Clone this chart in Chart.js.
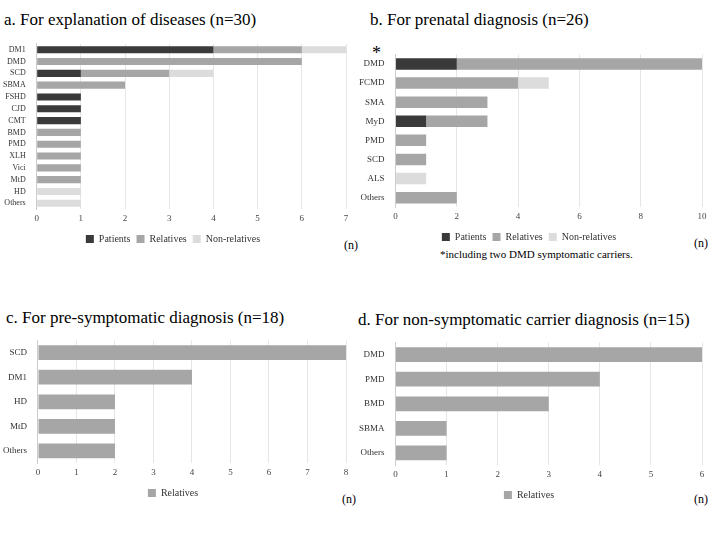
<!DOCTYPE html>
<html><head><meta charset="utf-8">
<script src="https://cdn.jsdelivr.net/npm/chart.js@4"></script>
<style>
body{margin:0;background:#fff;font-family:"Liberation Serif",serif;}
.t{position:absolute;font-size:17px;color:#000;white-space:nowrap}
.n{position:absolute;font-size:12px}
.box{position:absolute}
</style></head><body>
<div class="t" style="left:4px;top:10px">a. For explanation of diseases (n=30)</div>
<div class="t" style="left:370px;top:10px">b. For prenatal diagnosis (n=26)</div>
<div class="t" style="left:6px;top:308px">c. For pre-symptomatic diagnosis (n=18)</div>
<div class="t" style="left:358px;top:310px">d. For non-symptomatic carrier diagnosis (n=15)</div>
<div class="n" style="left:344px;top:238px">(n)</div>
<div class="n" style="left:694px;top:236px">(n)</div>
<div class="n" style="left:342px;top:492px">(n)</div>
<div class="n" style="left:694px;top:492px">(n)</div>
<div class="n" style="left:372px;top:43px;font-size:18px">*</div>
<div class="n" style="left:440px;top:248px;font-size:11px">*including two DMD symptomatic carriers.</div>
<div class="box" style="left:0;top:36px;width:360px;height:218px"><canvas id="ca"></canvas></div>
<div class="box" style="left:356px;top:46px;width:360px;height:206px"><canvas id="cb"></canvas></div>
<div class="box" style="left:0;top:332px;width:360px;height:176px"><canvas id="cc"></canvas></div>
<div class="box" style="left:356px;top:334px;width:360px;height:176px"><canvas id="cd"></canvas></div>
<script>
const DARK='#3a3a3a', MID='#a6a6a6', LIGHT='#dcdcdc';
// a
const catA=['DM1','DMD','SCD','SBMA','FSHD','CJD','CMT','BMD','PMD','XLH','Vici','MtD','HD','Others'];
const patA=[4,0,1,0,1,1,1,0,0,0,0,0,0,0];
const relA=[2,6,2,2,0,0,0,1,1,1,1,1,0,0];
const nonA=[1,0,1,0,0,0,0,0,0,0,0,0,1,1];
// b
const catB=['DMD','FCMD','SMA','MyD','PMD','SCD','ALS','Others'];
const patB=[2,0,0,1,0,0,0,0];
const relB=[8,4,3,2,1,1,0,2];
const nonB=[0,1,0,0,0,0,1,0];
// c
const catC=['SCD','DM1','HD','MtD','Others'];
const relC=[8,4,2,2,2];
// d
const catD=['DMD','PMD','BMD','SBMA','Others'];
const relD=[6,4,3,1,1];

function mk(id,cats,sets,max,step,cp,fs){
  new Chart(document.getElementById(id),{
    type:'bar',
    data:{labels:cats,datasets:sets.map(s=>({label:s[0],data:s[1],backgroundColor:s[2],categoryPercentage:cp,barPercentage:1}))},
    options:{indexAxis:'y',responsive:true,maintainAspectRatio:false,animation:false,
      layout:{padding:{right:14}},
      plugins:{legend:{position:'bottom',labels:{boxWidth:8,boxHeight:8,padding:6,color:'#333',font:{family:'Liberation Serif',size:10}}},tooltip:{enabled:false}},
      scales:{
        x:{stacked:true,min:0,max:max,ticks:{stepSize:step,padding:4,color:'#444',font:{family:'Liberation Serif',size:9}},grid:{color:'#e6e6e6',drawTicks:false},border:{display:false}},
        y:{stacked:true,ticks:{autoSkip:false,color:'#333',font:{family:'Liberation Serif',size:fs}},grid:{display:false},border:{color:'#ccc'}}
      }}
  });
}
mk('ca',catA,[['Patients',patA,DARK],['Relatives',relA,MID],['Non-relatives',nonA,LIGHT]],7,1,0.6,8);
mk('cb',catB,[['Patients',patB,DARK],['Relatives',relB,MID],['Non-relatives',nonB,LIGHT]],10,2,0.6,9);
mk('cc',catC,[['Relatives',relC,MID]],8,1,0.6,9);
mk('cd',catD,[['Relatives',relD,MID]],6,1,0.6,9);
</script>
</body></html>
